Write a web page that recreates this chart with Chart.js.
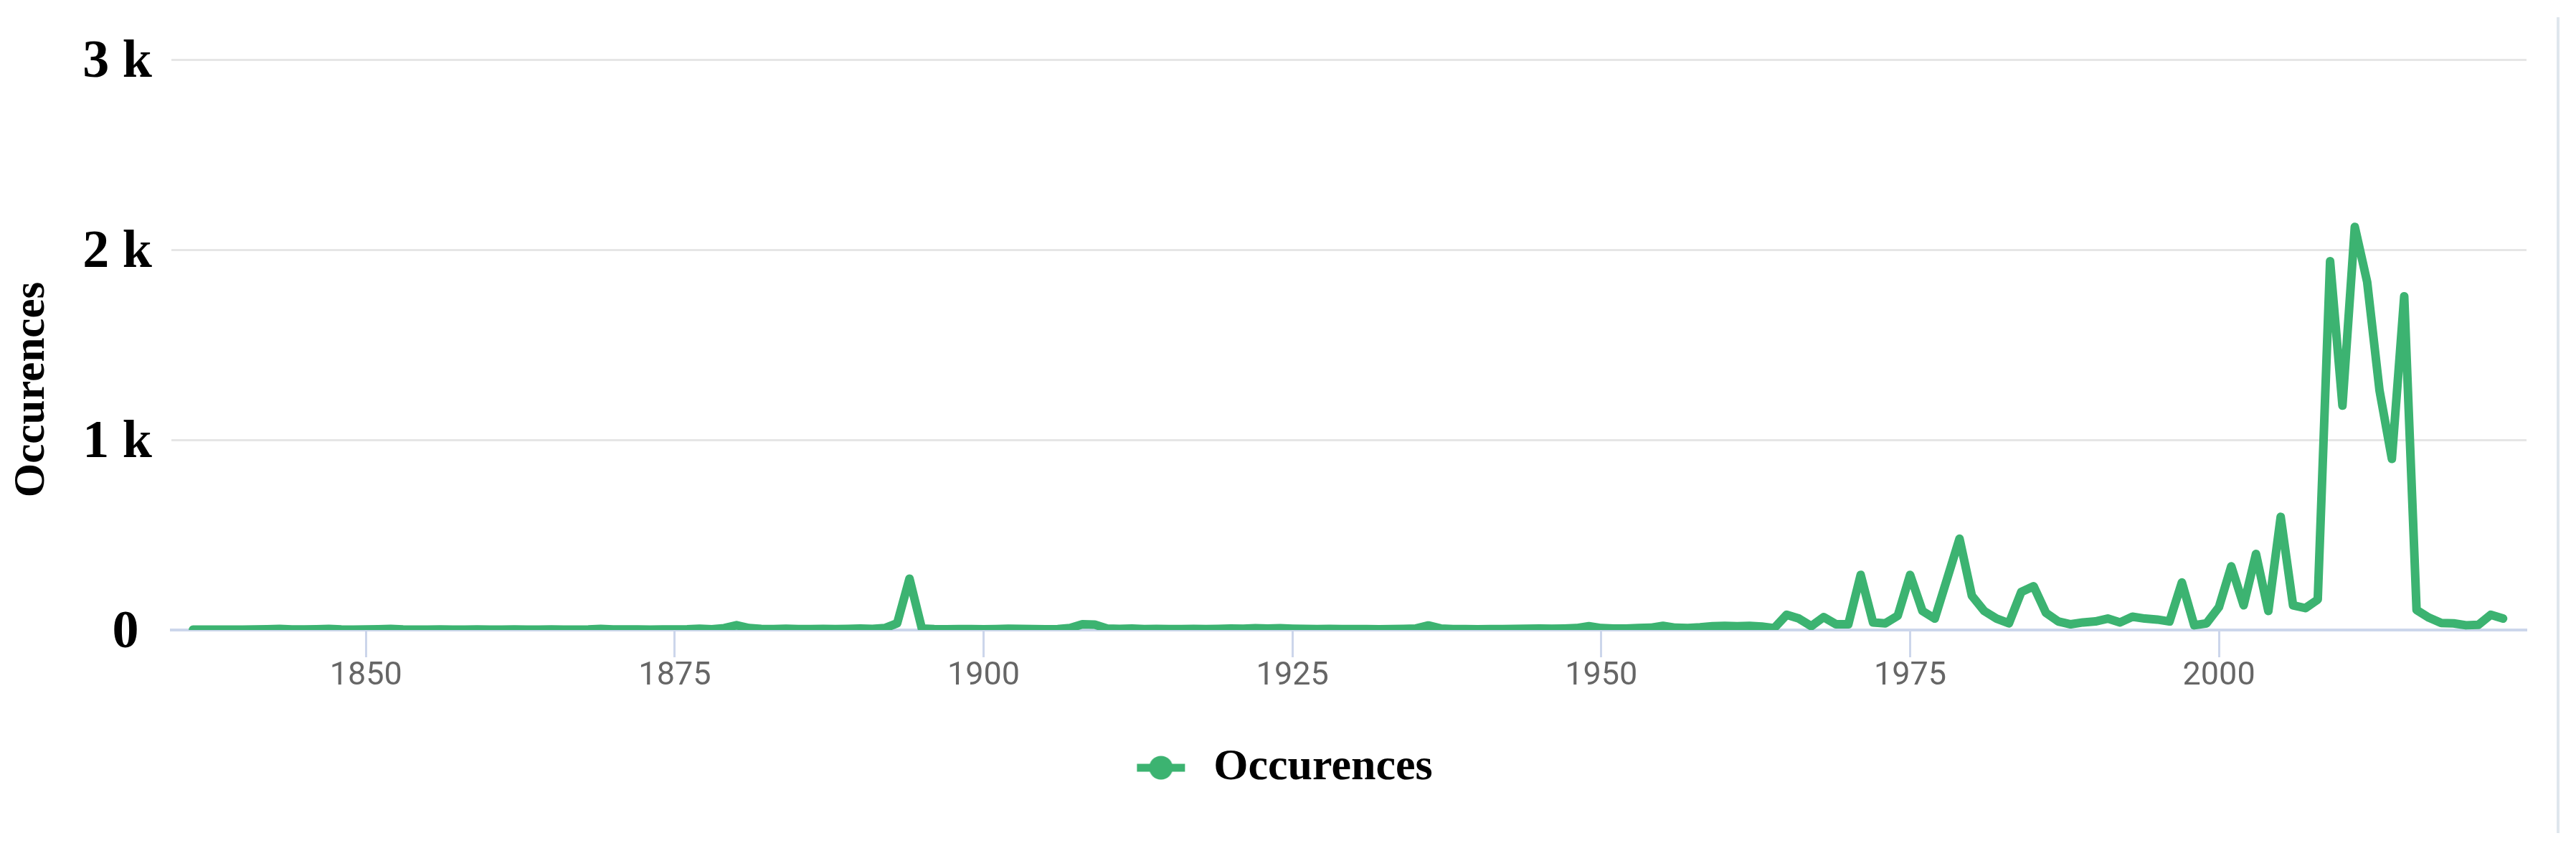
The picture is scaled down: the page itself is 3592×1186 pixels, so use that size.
<!DOCTYPE html>
<html lang="en">
<head>
<meta charset="UTF-8">
<title>Occurences per year</title>
<script src="https://cdn.jsdelivr.net/npm/chart.js"></script>
<style>
    body { margin: 0; background: #fff; }
    #wrap { position: relative; width: 3592px; height: 1186px; }
    #edge { position: absolute; left: 3565px; top: 24px; width: 4px; height: 1137px; background: #dfe6ed; }
</style>
</head>
<body>
<div id="wrap">
    <canvas id="occChart" width="3592" height="1186"></canvas>
    <div id="edge"></div>
</div>
<script>
// one value per year, starting at firstYear
const firstYear = 1836;
const occurences = [
    2, 2, 2, 2,
    2, 3, 4, 6, 3, 3, 4, 6, 3, 2,                        // 1840s
    3, 4, 6, 3, 2, 2, 3, 2, 2, 3,                        // 1850s
    2, 2, 3, 2, 2, 3, 2, 2, 3, 6,                        // 1860s
    3, 3, 3, 2, 3, 3, 4, 7, 4, 10,                       // 1870s
    25, 10, 6, 5, 7, 5, 5, 6, 5, 6,                      // 1880s
    8, 6, 10, 35, 270, 8, 5, 4, 5, 5,                    // 1890s
    4, 5, 7, 6, 5, 4, 5, 10, 30, 28,                     // 1900s
    8, 6, 8, 5, 6, 5, 5, 6, 5, 6,                        // 1910s
    8, 7, 9, 8, 9, 7, 6, 5, 6, 5,                        // 1920s
    5, 5, 4, 5, 6, 8, 24, 8, 5, 5,                       // 1930s
    4, 5, 5, 6, 7, 8, 7, 8, 10, 20,                      // 1940s
    10, 8, 8, 10, 12, 22, 12, 10, 14, 20,                // 1950s
    22, 20, 22, 18, 10, 80, 60, 20, 68, 30,              // 1960s
    30, 290, 40, 35, 75, 290, 100, 60, 270, 480,         // 1970s
    180, 100, 60, 35, 200, 230, 90, 45, 30, 40,          // 1980s
    45, 60, 40, 70, 60, 55, 45, 250, 25, 35,             // 1990s
    120, 335, 130, 400, 100, 595, 130, 115, 160, 1940,   // 2000s
    1180, 2120, 1830, 1260, 900, 1755, 105, 65, 37, 35,  // 2010s
    25, 27, 80, 60                                       // 2020s
];
const years = occurences.map((v, i) => firstYear + i);
const yTicks = [0, 1000, 2000, 3000];
const xTicks = [1850, 1875, 1900, 1925, 1950, 1975, 2000];

const green = '#3cb371';

// legend symbol: short line with a dot, like the original
function legendMarker() {
    const c = document.createElement('canvas');
    c.width = 136;
    c.height = 36;
    const g = c.getContext('2d');
    g.fillStyle = green;
    g.fillRect(60, 12.5, 67, 11);
    g.beginPath();
    g.arc(93.5, 18, 16.5, 0, Math.PI * 2);
    g.fill();
    return c;
}
const marker = legendMarker();

const yTitle = {
    id: 'yTitle',
    afterDraw(chart) {
        const ctx = chart.ctx;
        ctx.save();
        ctx.translate(45, 543);
        ctx.rotate(-Math.PI / 2);
        ctx.font = 'bold 61px "Liberation Serif"';
        ctx.fillStyle = '#000';
        ctx.textAlign = 'center';
        ctx.textBaseline = 'middle';
        ctx.fillText('Occurences', 0, 0);
        ctx.restore();
    }
};

new Chart(document.getElementById('occChart'), {
    type: 'line',
    data: {
        datasets: [{
            label: 'Occurences',
            data: years.map((y, i) => ({ x: y, y: occurences[i] })),
            borderColor: green,
            backgroundColor: green,
            borderWidth: 12,
            borderJoinStyle: 'round',
            borderCapStyle: 'round',
            pointRadius: 0,
            tension: 0,
            clip: 0
        }]
    },
    options: {
        responsive: false,
        animation: false,
        devicePixelRatio: 1,
        layout: { padding: { top: 83, right: 69, bottom: 75, left: 0 } },
        scales: {
            x: {
                type: 'linear',
                min: 1834.25,
                max: 2024.9,
                afterFit(scale) { scale.height = 100; },
                afterBuildTicks(scale) { scale.ticks = xTicks.map(v => ({ value: v })); },
                grid: {
                    drawOnChartArea: false,
                    drawTicks: true,
                    tickLength: 38,
                    tickColor: '#ccd6eb',
                    tickWidth: 3
                },
                border: { display: true, color: '#ccd6eb', width: 4 },
                ticks: {
                    padding: 0,
                    color: '#666666',
                    font: { family: 'Roboto', size: 45 },
                    maxRotation: 0,
                    callback: v => String(v)
                }
            },
            y: {
                min: 0,
                max: 3000,
                afterFit(scale) { scale.width = 239; },
                afterBuildTicks(scale) { scale.ticks = yTicks.map(v => ({ value: v })); },
                grid: {
                    drawTicks: false,
                    lineWidth: 3,
                    color: ctx => ctx.tick && ctx.tick.value === 0 ? 'rgba(0,0,0,0)' : '#e6e6e6'
                },
                border: { display: false },
                ticks: {
                    padding: 27,
                    labelOffset: 5,
                    color: '#000',
                    font: { family: 'Liberation Serif', size: 74, weight: 'bold' },
                    callback: v => v === 0 ? '0\u00a0' : (v / 1000) + ' k'
                }
            }
        },
        plugins: {
            tooltip: { enabled: false },
            legend: {
                position: 'bottom',
                labels: {
                    usePointStyle: true,
                    pointStyleWidth: 136,
                    padding: 61,
                    color: '#000',
                    font: { family: 'Liberation Serif', size: 62, weight: 'bold' },
                    generateLabels: chart => Chart.defaults.plugins.legend.labels.generateLabels(chart)
                        .map(item => Object.assign(item, { pointStyle: marker }))
                }
            }
        }
    },
    plugins: [yTitle]
});
</script>
</body>
</html>
